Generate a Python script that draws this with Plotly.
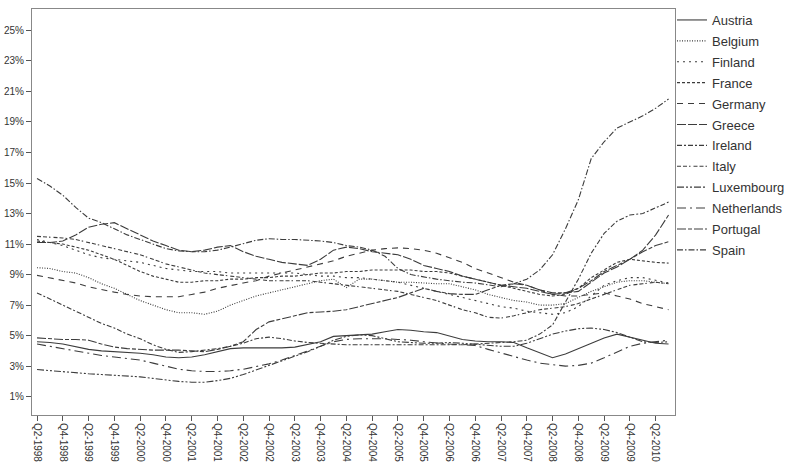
import plotly.graph_objects as go

quarters = []
for yr in range(1998, 2011):
    for q in range(1, 5):
        quarters.append(f"Q{q}-{yr}")
quarters = quarters[quarters.index("Q2-1998"):quarters.index("Q3-2010") + 1]

tick_labels = [q for q in quarters if q.startswith("Q2") or q.startswith("Q4")]

austria = [4.6,4.55,4.45,4.3,4.1,4.0,3.95,3.9,3.85,3.75,3.6,3.55,3.6,3.75,3.95,4.15,4.2,4.2,4.2,4.2,
           4.25,4.4,4.6,4.95,5.0,5.05,5.1,5.25,5.4,5.35,5.25,5.2,5.0,4.75,4.65,4.6,4.6,4.55,4.2,3.85,
           3.55,3.8,4.15,4.5,4.85,5.1,4.9,4.65,4.5,4.45]
belgium = [9.45,9.4,9.2,9.1,8.8,8.4,8.1,7.7,7.3,7.0,6.7,6.5,6.5,6.4,6.6,7.0,7.3,7.6,7.8,8.0,
           8.25,8.4,8.6,8.7,8.15,8.7,8.7,8.6,8.5,8.5,8.45,8.4,8.4,8.2,8.0,7.7,7.5,7.3,7.2,7.0,
           7.0,7.1,7.5,7.9,8.2,8.5,8.6,8.6,8.5,8.4]
finland = [11.3,11.1,10.9,10.6,10.3,10.1,10.0,9.9,9.8,9.6,9.4,9.3,9.2,9.2,9.2,9.1,9.1,9.1,9.1,9.1,
           9.1,9.0,8.9,8.9,8.8,8.8,8.7,8.6,8.5,8.3,8.1,7.9,7.7,7.5,7.3,7.1,6.9,6.8,6.6,6.5,
           6.4,6.5,6.9,7.6,8.3,8.6,8.8,8.8,8.6,8.45]
france = [11.2,11.1,11.0,10.8,10.6,10.3,10.0,9.6,9.2,8.9,8.7,8.5,8.5,8.6,8.6,8.7,8.7,8.8,8.8,8.9,
          8.9,9.0,9.1,9.1,9.2,9.2,9.3,9.3,9.3,9.3,9.2,9.2,9.1,8.9,8.7,8.5,8.3,8.1,7.9,7.7,
          7.6,7.7,8.1,8.8,9.3,9.8,10.0,9.9,9.8,9.75]
germany = [8.95,8.8,8.6,8.45,8.2,8.0,7.85,7.7,7.6,7.55,7.55,7.55,7.7,7.85,8.1,8.3,8.45,8.6,8.9,9.1,
           9.3,9.5,9.7,9.9,10.2,10.4,10.6,10.7,10.75,10.7,10.6,10.4,10.1,9.8,9.4,9.1,8.8,8.5,8.3,8.0,
           7.7,7.6,7.6,7.7,7.8,7.6,7.4,7.1,6.9,6.7]
greece = [11.1,11.1,11.2,11.6,12.1,12.3,12.4,12.0,11.6,11.2,10.9,10.6,10.5,10.6,10.8,10.9,10.5,10.2,10.0,9.8,
          9.7,9.6,10.0,10.6,10.8,10.7,10.5,10.4,10.3,10.0,9.6,9.4,9.2,8.9,8.7,8.5,8.3,8.2,8.1,7.9,
          7.7,7.8,7.9,8.5,9.1,9.5,10.0,10.6,11.6,12.9]
ireland = [7.8,7.4,7.0,6.6,6.2,5.8,5.5,5.1,4.8,4.4,4.1,3.9,3.95,4.05,4.15,4.3,4.5,4.8,4.9,4.8,
           4.65,4.55,4.5,4.45,4.4,4.4,4.4,4.4,4.4,4.4,4.4,4.4,4.4,4.4,4.45,4.5,4.55,4.6,4.7,5.1,
           5.7,7.2,8.7,10.4,11.7,12.5,12.9,13.0,13.4,13.75]
italy = [11.5,11.45,11.4,11.3,11.1,10.9,10.7,10.5,10.3,10.0,9.7,9.5,9.3,9.1,9.0,8.9,8.8,8.7,8.6,8.6,
         8.6,8.6,8.5,8.4,8.3,8.2,8.1,8.0,7.9,7.7,7.5,7.3,7.0,6.7,6.5,6.2,6.15,6.3,6.5,6.7,
         6.8,6.9,7.1,7.4,7.7,8.0,8.3,8.4,8.5,8.4]
luxembourg = [2.78,2.7,2.62,2.55,2.5,2.45,2.4,2.35,2.3,2.2,2.1,2.0,1.95,1.95,2.05,2.2,2.45,2.75,3.0,3.3,
              3.6,3.95,4.3,4.7,4.95,5.05,5.0,4.8,4.6,4.55,4.5,4.5,4.55,4.5,4.45,4.35,4.3,4.3,4.5,4.8,
              5.1,5.3,5.45,5.5,5.4,5.2,4.9,4.6,4.55,4.6]
netherlands = [4.45,4.3,4.15,4.0,3.85,3.7,3.6,3.5,3.4,3.2,3.0,2.8,2.7,2.65,2.65,2.7,2.8,2.95,3.15,3.4,
               3.7,4.0,4.3,4.6,4.75,4.8,4.8,4.8,4.75,4.7,4.6,4.5,4.45,4.4,4.35,4.1,3.85,3.6,3.4,3.2,
               3.1,3.0,3.05,3.2,3.55,3.95,4.3,4.5,4.6,4.7]
portugal = [4.85,4.8,4.75,4.75,4.7,4.45,4.25,4.15,4.1,4.05,4.05,4.05,4.0,3.95,4.1,4.3,4.6,5.4,5.9,6.1,
            6.3,6.5,6.55,6.6,6.7,6.9,7.1,7.3,7.5,7.8,8.1,7.9,7.75,7.7,7.7,8.0,8.3,8.4,8.3,8.0,
            7.8,7.8,8.1,8.6,9.2,9.6,10.0,10.5,10.9,11.15]
spain = [15.3,14.8,14.2,13.4,12.7,12.4,12.0,11.6,11.3,11.0,10.7,10.55,10.5,10.5,10.6,10.8,11.0,11.25,11.35,11.3,
         11.3,11.25,11.2,11.1,10.9,10.8,10.6,10.2,9.4,9.0,8.85,8.7,8.6,8.5,8.45,8.3,8.2,8.4,8.7,9.3,
         10.3,12.0,13.9,16.6,17.7,18.6,19.0,19.4,19.9,20.5]

countries = ["Austria", "Belgium", "Finland", "France", "Germany", "Greece", "Ireland",
             "Italy", "Luxembourg", "Netherlands", "Portugal", "Spain"]
values = [austria, belgium, finland, france, germany, greece, ireland,
          italy, luxembourg, netherlands, portugal, spain]
dashes = ["solid", "1px,1.5px", "2px,4px", "3px,2px", "6px,5px", "9px,2px",
          "5px,2px,2px,2px", "4px,2px,4px,2px,1.5px,3px", "7px,2px,2px,2px,2px,2px",
          "9px,4px,2px,4px", "9px,2px,4px,2px", "6px,2px,1.5px,2px"]

fig = go.Figure()
for name, vals, dash in zip(countries, values, dashes):
    fig.add_trace(go.Scatter(
        x=quarters, y=vals, mode="lines", name=name, legendgroup=name,
        line=dict(color="#3c3c3c", width=1.1, dash=dash),
    ))

fig.update_layout(
    width=793, height=467,
    margin=dict(l=32, r=118, t=9, b=52, autoexpand=False),
    plot_bgcolor="white", paper_bgcolor="white",
    font=dict(family="Liberation Sans, Arial, sans-serif", color="#333333"),
    legend=dict(x=1.0 - 3 / 643, xanchor="left", y=1.0 + 4 / 406, yanchor="top",
                tracegroupgap=1, font=dict(size=13, color="#333333"), itemwidth=30,
                bgcolor="rgba(0,0,0,0)", maxheight=460),
    showlegend=True,
)
fig.update_xaxes(
    type="category", categoryorder="array", categoryarray=quarters,
    range=[-0.39, 49.5], tickmode="array", tickvals=tick_labels, ticktext=tick_labels,
    tickangle=90, tickfont=dict(size=10), ticks="outside", ticklen=5, tickcolor="#555",
    showline=True, linecolor="#888888", linewidth=1, mirror=True, showgrid=False, zeroline=False,
    automargin=False,
)
fig.update_yaxes(
    range=[-0.2, 26.4], tickmode="array", tickvals=list(range(1, 26, 2)),
    ticktext=[f"{v}%" for v in range(1, 26, 2)], tickfont=dict(size=10),
    ticks="outside", ticklen=5, tickcolor="#555",
    showline=True, linecolor="#888888", linewidth=1, mirror=True, showgrid=False, zeroline=False,
    automargin=False,
)

fig.write_html("out.html")
